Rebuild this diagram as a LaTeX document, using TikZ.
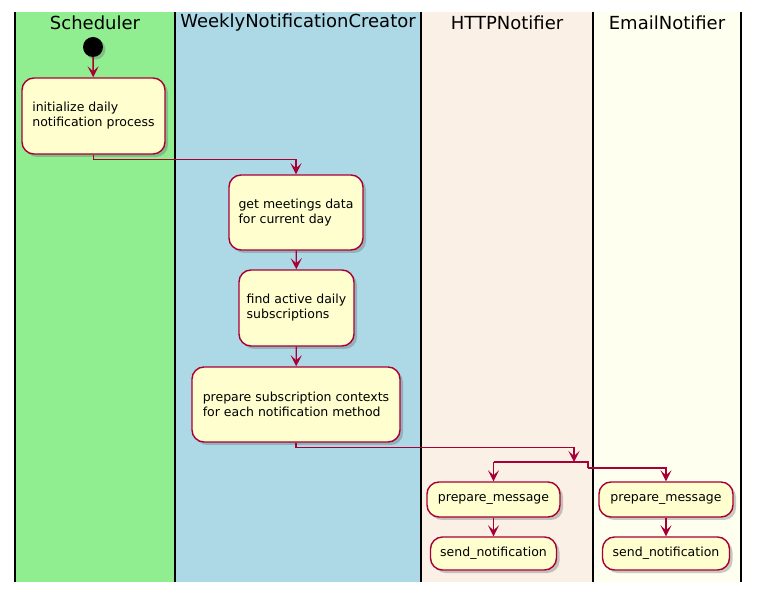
\documentclass[tikz,border=0pt]{standalone}
\usepackage{fontspec}
\setmainfont{DejaVu Sans}
\usetikzlibrary{arrows.meta,shadows,calc}
\definecolor{lanegreen}{HTML}{90EE90}
\definecolor{laneblue}{HTML}{ADD8E6}
\definecolor{lanelinen}{HTML}{FAF0E6}
\definecolor{laneivory}{HTML}{FFFFF0}
\definecolor{boxfill}{HTML}{FEFECE}
\definecolor{boxline}{HTML}{A80036}
\tikzset{
  act/.style={draw=boxline, line width=1.4pt, fill=boxfill, rounded corners=12pt, align=left,
    font=\fontsize{12.5}{15}\selectfont, inner sep=0pt,
    drop shadow={shadow xshift=3pt, shadow yshift=-3pt, opacity=0.35, fill=black!60}},
  flow/.style={draw=boxline, line width=1.4pt, -{Stealth[length=11pt,width=11pt,inset=5pt]}},
  flowline/.style={draw=boxline, line width=1.4pt},
  lanetitle/.style={font=\fontsize{18}{20}\selectfont, anchor=center},
  laneline/.style={draw=black, line width=1.8pt}
}
\begin{document}
\begin{tikzpicture}[x=1pt,y=-1pt]
\useasboundingbox (0,0) rectangle (761,593);
% lanes
\fill[lanegreen] (15,12) rectangle (175,582);
\fill[laneblue] (175,12) rectangle (421,582);
\fill[lanelinen] (421,12) rectangle (593,582);
\fill[laneivory] (593,12) rectangle (741,582);
\foreach \x in {15,175,421,593,741} \draw[laneline] (\x,12) -- (\x,582);
\node[lanetitle] (t1) at (95,23) {Scheduler};
\node[lanetitle] (t2) at (298,23) {WeeklyNotificationCreator};
\node[lanetitle] (t3) at (507,23) {HTTPNotifier};
\node[lanetitle] (t4) at (667,23) {EmailNotifier};
% start
\node[circle, fill=black, minimum size=20pt, inner sep=0pt,
  drop shadow={shadow xshift=2.5pt, shadow yshift=-2.5pt, opacity=0.35, fill=black!60}] (start) at (93,47) {};
% activities
\node[act, minimum width=143pt, minimum height=76pt] (b1) at (93.5,116) {initialize daily\\notification process};
\node[act, minimum width=134pt, minimum height=75pt] (b2) at (296,212.5) {get meetings data\\for current day};
\node[act, minimum width=115pt, minimum height=76pt] (b3) at (296.5,308) {find active daily\\subscriptions};
\node[act, minimum width=208pt, minimum height=75pt] (b4) at (296,404.5) {prepare subscription contexts\\for each notification method};
\node[act, minimum width=133pt, minimum height=35pt] (hp) at (493.5,499.5) {prepare\_message};
\node[act, minimum width=126pt, minimum height=33pt] (hs) at (493.5,553.5) {send\_notification};
\node[act, minimum width=134pt, minimum height=35pt] (ep) at (666,499.5) {prepare\_message};
\node[act, minimum width=127pt, minimum height=33pt] (es) at (666,553.5) {send\_notification};
\coordinate (fork) at (574,462);
\coordinate (fl) at (493.5,462);
\coordinate (fr) at (588,462);
% flows
\draw[flow] (start) -- (b1);
\draw[flow] (b1.south) -- ++(0,5) -| (b2.north);
\draw[flow] (b2) -- (b3);
\draw[flow] (b3) -- (b4);
\draw[flow] (b4.south) -- ++(0,5) -| (fork);
\draw[flowline] (fl) -- (fr) -- ++(0,6) coordinate (frd);
\draw[flow] (frd) -| (ep.north);
\draw[flow] (fl) -- (hp.north);
\draw[flow] (hp) -- (hs);
\draw[flow] (ep) -- (es);
\end{tikzpicture}
\end{document}
